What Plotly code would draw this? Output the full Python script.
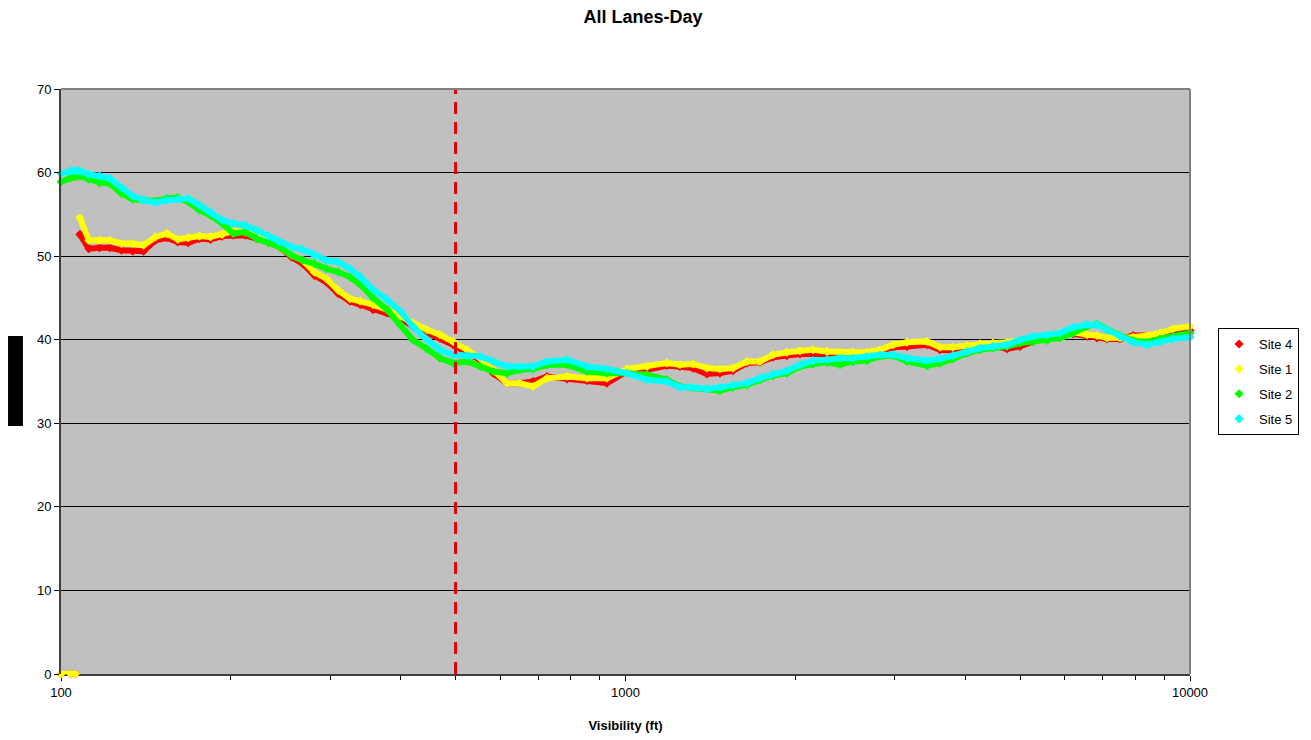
import plotly.graph_objects as go

# visibility (ft) at the sampled points, shared by all sites
visibility = [
    100, 104, 106, 107, 108, 112, 117, 122, 128, 134, 140,
    147, 154, 161, 168, 176, 184, 193, 202, 212, 222,
    233, 244, 256, 268, 281, 295, 310, 325, 339, 357,
    378, 399, 420, 445, 469, 495, 524, 553, 583, 617,
    650, 686, 726, 788, 855, 927, 1006, 1092, 1184, 1249,
    1317, 1394, 1470, 1550, 1642, 1731, 1825, 1932, 2038, 2148,
    2275, 2399, 2529, 2678, 2824, 2978, 3153, 3420, 3607, 3803,
    4027, 4246, 4477, 4741, 5000, 5272, 5582, 5886, 6206, 6572,
    6842, 7128, 7516, 7926, 8392, 8849, 9330, 10000,
]

site4 = [
    0, 0, 0, None, 52.6, 50.9, 51.0, 51.0, 50.7, 50.6, 50.6,
    51.9, 52.2, 51.7, 51.6, 52.1, 52.0, 52.4, 52.5, 52.5, 52.1,
    51.7, 51.1, 49.9, 49.1, 47.7, 46.9, 45.5, 44.6, 44.2, 43.6,
    43.2, 42.6, 41.6, 40.8, 40.2, 39.4, 38.4, 37.6, 36.0, 34.8,
    34.8, 35.0, 35.6, 35.3, 35.1, 34.8, 36.2, 36.4, 36.9, 36.8,
    36.6, 35.9, 36.0, 36.3, 37.2, 37.3, 37.9, 38.1, 38.3, 38.3,
    38.3, 38.2, 38.2, 38.3, 38.6, 39.1, 39.2, 39.4, 38.8, 38.7,
    39.0, 39.2, 39.3, 38.9, 39.2, 39.8, 40.2, 40.6, 40.7, 40.4,
    40.2, 40.1, 40.1, 40.5, 40.5, 40.7, 40.9, 41.1,
]

site1 = [
    0, 0, 0, None, 54.6, 51.9, 51.9, 51.9, 51.5, 51.5, 51.3,
    52.3, 52.7, 52.0, 52.2, 52.4, 52.3, 52.6, 53.0, 52.9, 52.5,
    51.9, 51.1, 50.1, 49.5, 48.1, 47.3, 45.9, 44.9, 44.6, 44.2,
    43.6, 42.8, 42.0, 41.2, 40.6, 39.8, 38.8, 37.8, 36.4, 34.8,
    34.8, 34.4, 35.4, 35.6, 35.4, 35.4, 36.5, 36.8, 37.2, 37.0,
    37.1, 36.6, 36.5, 36.6, 37.4, 37.4, 38.2, 38.5, 38.7, 38.8,
    38.6, 38.5, 38.5, 38.5, 38.8, 39.4, 39.7, 39.8, 39.1, 39.1,
    39.3, 39.5, 39.6, 39.7, 39.9, 40.2, 40.6, 40.8, 40.9, 40.6,
    40.5, 40.2, 40.2, 40.3, 40.5, 40.8, 41.3, 41.6,
]

site2 = [
    58.9, 59.4, 59.5, 59.6, 59.6, 59.2, 58.8, 58.7, 57.5, 56.8, 56.7,
    56.6, 56.9, 57.0, 56.5, 55.5, 54.9, 53.9, 52.7, 52.9, 52.1,
    51.6, 51.1, 50.1, 49.5, 49.1, 48.5, 48.1, 47.5, 46.6, 45.0,
    43.6, 41.8, 40.0, 38.9, 37.8, 37.2, 37.4, 36.8, 36.2, 36.0,
    36.4, 36.5, 37.0, 37.0, 36.2, 36.0, 36.0, 35.8, 35.2, 34.4,
    34.2, 34.1, 33.9, 34.3, 34.6, 35.2, 35.7, 36.0, 36.8, 37.1,
    37.3, 37.0, 37.4, 37.5, 38.0, 38.1, 37.4, 36.9, 37.2, 37.7,
    38.4, 38.8, 39.0, 39.2, 39.6, 39.8, 39.9, 40.2, 40.8, 41.6,
    41.9, 41.2, 40.5, 39.9, 39.7, 40.1, 40.4, 40.8,
]

site5 = [
    59.9, 60.2, 60.2, 60.2, 60.2, 59.8, 59.6, 59.3, 58.2, 57.2, 56.7,
    56.4, 56.7, 56.8, 56.9, 56.1, 55.3, 54.3, 53.9, 53.7, 53.1,
    52.4, 51.7, 51.1, 50.8, 50.2, 49.5, 49.3, 48.5, 47.5, 46.0,
    44.8, 43.4, 41.6, 40.0, 38.8, 38.2, 38.1, 38.0, 37.4, 36.8,
    36.8, 36.8, 37.4, 37.6, 36.8, 36.5, 36.0, 35.2, 35.0, 34.3,
    34.3, 34.1, 34.3, 34.6, 34.8, 35.4, 35.9, 36.3, 37.0, 37.5,
    37.6, 37.8, 37.8, 38.0, 38.2, 38.2, 37.8, 37.5, 37.7, 38.1,
    38.6, 39.0, 39.2, 39.4, 40.0, 40.4, 40.6, 40.8, 41.5, 41.8,
    41.8, 41.2, 40.4, 39.7, 39.4, 39.7, 40.1, 40.3,
]

site_names = ["Site 4", "Site 1", "Site 2", "Site 5"]
site_colors = ["#FF0000", "#FFFF00", "#00FF00", "#00FFFF"]

threshold_ft = 500

y_ticks = [0, 10, 20, 30, 40, 50, 60, 70]
x_tick_vals = [100, 1000, 10000]
x_tick_text = ["100", "1000", "10000"]
x_minor_vals = [200, 300, 400, 500, 600, 700, 800, 900,
                2000, 3000, 4000, 5000, 6000, 7000, 8000, 9000]

FONT = "Liberation Sans, Arial, sans-serif"

fig = go.Figure()

for name, color, ys in zip(site_names, site_colors, [site4, site1, site2, site5]):
    fig.add_trace(go.Scatter(x=visibility, y=ys, mode="lines+markers",
                             line=dict(color=color, width=6),
                             marker=dict(color=color, size=7, symbol="diamond"),
                             cliponaxis=False,
                             showlegend=False, hoverinfo="skip"))

# dashed threshold at 500 ft, drawn over the curves
fig.add_trace(go.Scatter(x=[threshold_ft, threshold_ft], y=[y_ticks[0], y_ticks[-1]],
                         mode="lines", line=dict(color="#E00000", width=3, dash="12px,8px"),
                         showlegend=False, hoverinfo="skip"))

# legend entries show just the marker, like the original
for name, color in zip(site_names, site_colors):
    fig.add_trace(go.Scatter(x=[None], y=[None], mode="markers", name=name,
                             legendgroup=name,
                             marker=dict(color=color, size=7, symbol="diamond")))

# the page adds an 8px body margin, so the figure is 8px smaller than the window
fig.update_layout(
    width=1303, height=732,
    margin=dict(l=53, r=121, t=81, b=66, autoexpand=False),
    paper_bgcolor="white", plot_bgcolor="#C0C0C0",
    font=dict(family=FONT, size=13, color="#000000"),
    title=dict(text="<b>All Lanes-Day</b>", x=0.4873, xanchor="center",
               y=0.9877, yanchor="middle", font=dict(family=FONT, size=18, color="#000000")),
    legend=dict(x=1.0966, xanchor="right", y=0.5, yanchor="middle",
                bgcolor="white", bordercolor="#000000", borderwidth=1,
                font=dict(family=FONT, size=13, color="#000000"),
                tracegroupgap=5, itemwidth=30),
)

fig.update_xaxes(type="log", range=[2, 4],
                 tickvals=x_tick_vals, ticktext=x_tick_text,
                 ticks="outside", ticklen=5, tickcolor="#000000", tickwidth=1,
                 minor=dict(tickvals=x_minor_vals, ticks="outside", ticklen=4,
                            tickcolor="#000000", showgrid=False),
                 showgrid=False, zeroline=False, layer="below traces",
                 showline=True, linecolor="#404040", linewidth=2,
                 tickfont=dict(size=13),
                 title=dict(text="<b>Visibility (ft)</b>", font=dict(size=13), standoff=22))

fig.update_yaxes(range=[0, 70], tickvals=y_ticks,
                 ticks="outside", ticklen=5, tickcolor="#000000", tickwidth=1,
                 showgrid=True, gridcolor="#000000", gridwidth=1, zeroline=False,
                 showline=True, linecolor="#404040", linewidth=2,
                 tickfont=dict(size=13))

# grey border on the top and right of the plot area
fig.add_shape(type="line", xref="x domain", yref="y domain", x0=0, x1=1, y0=1, y1=1,
              line=dict(color="#808080", width=2), layer="above")
fig.add_shape(type="line", xref="x domain", yref="y domain", x0=1, x1=1, y0=0, y1=1,
              line=dict(color="#808080", width=2), layer="above")

# black block where the y-axis title sits in the original
fig.add_shape(type="rect", xref="paper", yref="paper",
              x0=-0.0469, x1=-0.0337, y0=0.4239, y1=0.5778,
              fillcolor="#000000", line=dict(width=0), layer="above")

fig.write_html("out.html")
